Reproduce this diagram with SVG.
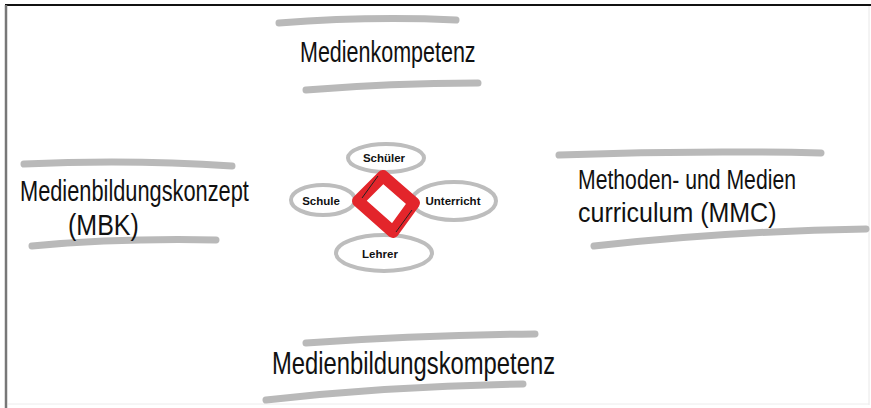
<svg xmlns="http://www.w3.org/2000/svg" width="871" height="408" viewBox="0 0 871 408">
<style>
.bar{fill:none;stroke:#b9b9b9;stroke-width:7;stroke-linecap:round}
.ell{fill:#fff;stroke:#bdbdbd;stroke-width:4}
.hw{font-family:"Liberation Sans","DejaVu Sans",sans-serif;fill:#111;font-weight:normal}
.sm{font-family:"Liberation Sans","DejaVu Sans",sans-serif;fill:#111;font-size:11.5px;font-weight:bold}
</style>
<rect width="871" height="408" fill="#fff"/>
<g id="frame">
<line x1="5" y1="5" x2="871" y2="5" stroke="#111" stroke-width="2"/>
<line x1="6" y1="5" x2="6" y2="408" stroke="#777" stroke-width="2.5"/>
<line x1="869" y1="6" x2="869" y2="405" stroke="#e8e8e8" stroke-width="1"/>
<line x1="8" y1="404" x2="869" y2="404" stroke="#ececec" stroke-width="1"/>
</g>
<g id="medienkompetenz">
<path class="bar" d="M279 23 Q370 16 456 20"/>
<path class="bar" d="M306 90 Q390 83 478 83"/>
<text class="hw" transform="translate(300,62) scale(1,1.35)" font-size="21.5">Medienkompetenz</text>
</g>
<g id="medienbildungskonzept">
<path class="bar" d="M24 164 Q130 159 232 166"/>
<path class="bar" d="M32 246 Q120 238 216 240"/>
<text class="hw" transform="translate(20,201) scale(1,1.35)" font-size="21.8">Medienbildungskonzept</text>
<text class="hw" transform="translate(68,235) scale(1,1.2)" font-size="25">(MBK)</text>
</g>
<g id="mmc">
<path class="bar" d="M559 155 Q690 150 821 153"/>
<path class="bar" d="M594 246 Q730 231 866 229"/>
<text class="hw" transform="translate(578,189) scale(1,1.3)" font-size="21.2">Methoden- und Medien</text>
<text class="hw" transform="translate(578,222) scale(1,1.1)" font-size="25">curriculum (MMC)</text>
</g>
<g id="medienbildungskompetenz">
<path class="bar" d="M306 343 Q420 335 535 334"/>
<path class="bar" d="M266 400 Q390 386 523 384"/>
<text class="hw" transform="translate(272,374) scale(1,1.3)" font-size="23.8">Medienbildungskompetenz</text>
</g>
<g id="schueler">
<ellipse class="ell" cx="386" cy="158" rx="38" ry="14"/>
<text class="sm" x="384" y="162" text-anchor="middle">Schüler</text>
</g>
<g id="schule">
<ellipse class="ell" cx="323" cy="200" rx="32" ry="15"/>
<text class="sm" x="321" y="205" text-anchor="middle">Schule</text>
</g>
<g id="unterricht">
<ellipse class="ell" cx="454" cy="201" rx="42" ry="19"/>
<text class="sm" x="453" y="205" text-anchor="middle">Unterricht</text>
</g>
<g id="lehrer">
<ellipse class="ell" cx="384" cy="253" rx="48" ry="18"/>
<text class="sm" x="380" y="258" text-anchor="middle">Lehrer</text>
</g>
<g id="center">
<path d="M383 176 L414 203 L393 232 L358 201 Z" fill="#fff" stroke="#e3252b" stroke-width="12" stroke-linejoin="round"/>
<line x1="362" y1="198" x2="378" y2="176" stroke="#222" stroke-width="1"/>
<line x1="412" y1="210" x2="396" y2="232" stroke="#222" stroke-width="1"/>
</g>
<g id="connectors"/>
</svg>
